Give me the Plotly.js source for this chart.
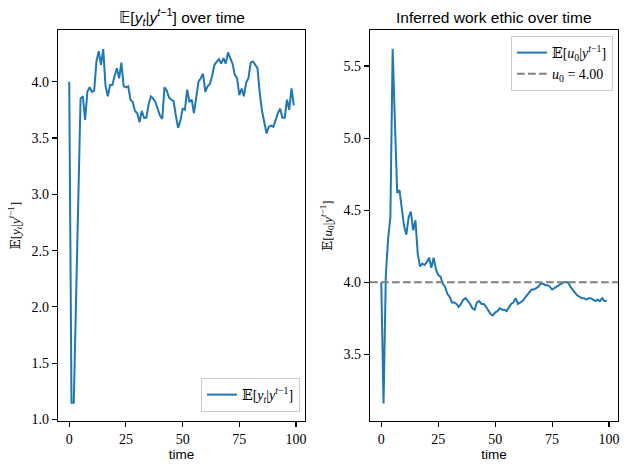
<!DOCTYPE html>
<html><head><meta charset="utf-8">
<script src="https://cdn.plot.ly/plotly-3.0.1.min.js"></script>
<style>html,body{margin:0;padding:0;background:#fff}#chart{width:629px;height:470px}</style>
</head><body><div id="chart"></div>
<script>
const timeSteps = [0,1,2,3,4,5,6,7,8,9,10,11,12,13,14,15,16,17,18,19,20,21,22,23,24,25,26,27,28,29,30,31,32,33,34,35,36,37,38,39,40,41,42,43,44,45,46,47,48,49,50,51,52,53,54,55,56,57,58,59,60,61,62,63,64,65,66,67,68,69,70,71,72,73,74,75,76,77,78,79,80,81,82,83,84,85,86,87,88,89,90,91,92,93,94,95,96,97,98,99];
const expectedY = [4.00,1.15,1.15,2.05,2.95,3.85,3.87,3.66,3.91,3.95,3.91,3.92,4.18,4.27,4.15,4.29,3.96,3.87,3.97,3.97,4.05,4.12,4.03,4.17,3.96,3.95,3.96,3.84,3.82,3.74,3.72,3.64,3.74,3.68,3.68,3.80,3.87,3.85,3.82,3.75,3.70,3.67,3.95,3.92,3.86,3.84,3.83,3.70,3.59,3.65,3.76,3.75,3.93,3.82,3.84,3.72,3.84,4.00,4.03,4.07,3.91,3.96,3.98,4.05,4.15,4.18,4.20,4.16,4.21,4.16,4.26,4.21,4.16,4.06,4.03,3.88,3.94,3.87,3.99,4.03,4.17,4.18,4.15,4.12,3.90,3.74,3.64,3.54,3.60,3.61,3.60,3.67,3.72,3.76,3.68,3.68,3.84,3.75,3.94,3.79];
const inferredU0 = [4.00,3.16,4.05,4.30,4.45,5.62,5.10,4.62,4.64,4.50,4.39,4.33,4.45,4.49,4.36,4.43,4.20,4.11,4.13,4.12,4.14,4.17,4.10,4.17,4.09,4.05,4.04,3.99,3.97,3.92,3.90,3.86,3.86,3.85,3.83,3.85,3.88,3.89,3.87,3.85,3.82,3.81,3.86,3.87,3.85,3.85,3.83,3.80,3.78,3.77,3.79,3.80,3.82,3.81,3.81,3.80,3.83,3.85,3.86,3.89,3.85,3.86,3.87,3.89,3.91,3.93,3.95,3.95,3.96,3.97,3.99,3.99,3.98,3.98,3.97,3.95,3.96,3.97,3.98,3.99,4.00,4.00,4.00,3.97,3.95,3.93,3.91,3.90,3.89,3.89,3.88,3.89,3.89,3.88,3.87,3.88,3.87,3.89,3.87,3.87];
const trueU0 = 4.00;
const xTicks = [0,25,50,75,100];
const leftYTicks = [1.0,1.5,2.0,2.5,3.0,3.5,4.0];
const rightYTicks = [3.5,4.0,4.5,5.0,5.5];
const xRange = [-4.95, 103.95];

const serif = "Liberation Serif, DejaVu Serif, serif";
const sans = "Liberation Sans, DejaVu Sans, sans-serif";
const blue = "#1f77b4";
const E = "\u{1D53C}";

const traces = [
  {x: timeSteps, y: expectedY, type: "scatter", mode: "lines", xaxis: "x", yaxis: "y",
   line: {color: blue, width: 2}, name: E + "[<i>y</i><sub><i>t</i></sub>|<i>y</i><sup><i>t</i>−1</sup>]", legend: "legend"},
  {x: timeSteps, y: inferredU0, type: "scatter", mode: "lines", xaxis: "x2", yaxis: "y2",
   line: {color: blue, width: 2}, name: E + "[<i>u</i><sub>0</sub>|<i>y</i><sup><i>t</i>−1</sup>]", legend: "legend2"},
  {x: xRange, y: [trueU0, trueU0], type: "scatter", mode: "lines", xaxis: "x2", yaxis: "y2",
   line: {color: "#808080", width: 2, dash: "7.7px,3.3px"}, name: "<i>u</i><sub>0</sub> = " + trueU0.toFixed(2), legend: "legend2"}
];

function axisBase(extra) {
  return Object.assign({
    showgrid: false, zeroline: false, showline: true, mirror: true,
    linecolor: "#000", linewidth: 1.1, ticks: "outside", ticklen: 5, tickwidth: 1.1, tickcolor: "#000",
    tickfont: {family: serif, size: 14, color: "#000"}
  }, extra);
}

const layout = {
  width: 629, height: 470, margin: {l: 0, r: 0, t: 0, b: 0},
  paper_bgcolor: "#fff", plot_bgcolor: "#fff", showlegend: true,
  xaxis: axisBase({domain: [58/629, 305/629], range: xRange, tickvals: xTicks, anchor: "y",
    title: {text: "time", font: {family: sans, size: 13.5, color: "#000"}, standoff: 0}}),
  yaxis: axisBase({domain: [1-421/470, 1-30/470], range: [0.987, 4.459], tickvals: leftYTicks, tickformat: ".1f", anchor: "x",
    title: {text: E + "[<i>y</i><sub><i>t</i></sub>|<i>y</i><sup><i>t</i>−1</sup>]", font: {family: serif, size: 13, color: "#000"}, standoff: 8}}),
  xaxis2: axisBase({domain: [370/629, 618/629], range: xRange, tickvals: xTicks, anchor: "y2",
    title: {text: "time", font: {family: sans, size: 13.5, color: "#000"}, standoff: 0}}),
  yaxis2: axisBase({domain: [1-421/470, 1-30/470], range: [3.038, 5.75], tickvals: rightYTicks, tickformat: ".1f", anchor: "x2",
    title: {text: E + "[<i>u</i><sub>0</sub>|<i>y</i><sup><i>t</i>−1</sup>]", font: {family: serif, size: 13, color: "#000"}, standoff: 8}}),
  legend: {x: 300/629, y: 1-412/470, xanchor: "right", yanchor: "bottom", bgcolor: "rgba(255,255,255,0.8)",
    bordercolor: "#cccccc", borderwidth: 1, font: {family: serif, size: 14, color: "#000"}},
  legend2: {x: 613/629, y: 1-36/470, xanchor: "right", yanchor: "top", bgcolor: "rgba(255,255,255,0.8)",
    bordercolor: "#cccccc", borderwidth: 1, font: {family: serif, size: 14, color: "#000"}},
  annotations: [
    {text: E + "[<i>y</i><sub><i>t</i></sub>|<i>y</i><sup><i>t</i>−1</sup>] over time", xref: "paper", yref: "paper",
     x: 181.5/629, y: 1-17/470, xanchor: "center", yanchor: "middle", showarrow: false,
     font: {family: sans, size: 15.5, color: "#000"}},
    {text: "Inferred work ethic over time", xref: "paper", yref: "paper",
     x: 494/629, y: 1-17/470, xanchor: "center", yanchor: "middle", showarrow: false,
     font: {family: sans, size: 15.5, color: "#000"}}
  ]
};

Plotly.newPlot("chart", traces, layout, {staticPlot: true, displayModeBar: false});
</script></body></html>
